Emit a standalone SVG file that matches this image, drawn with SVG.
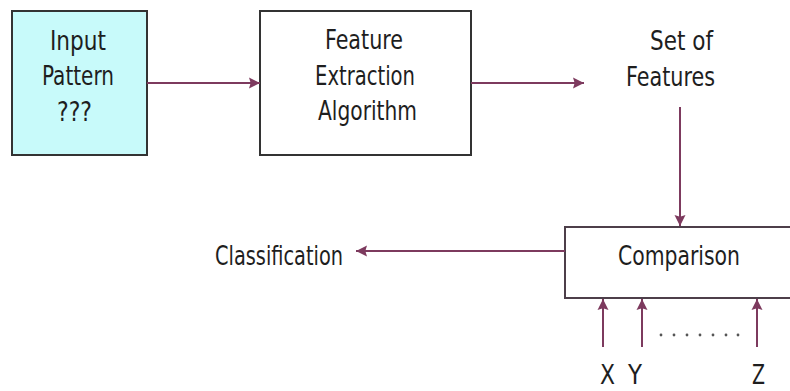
<svg xmlns="http://www.w3.org/2000/svg" width="790" height="391" viewBox="0 0 790 391">
  <defs>
    <marker id="arrow" viewBox="0 0 10 10" refX="10" refY="5" markerWidth="11" markerHeight="12" markerUnits="userSpaceOnUse" orient="auto">
      <path d="M0,0 L10,5 L0,10 L1.5,5 Z" fill="#7d3a5e"/>
    </marker>
  </defs>
  <style>
    .box { stroke: #333; stroke-width: 2; fill: #fff; }
    .input { fill: #c8fafa; }
    .cmp { stroke: #4d3f4a; }
    .wire { stroke: #7d3a5e; stroke-width: 2; fill: none; marker-end: url(#arrow); }
    text { font-family: "DejaVu Sans Condensed", "DejaVu Sans", sans-serif; font-size: 27px; fill: #1e1e1e; }
    .dots { fill: #555; }
  </style>
  <rect width="790" height="391" fill="#fff"/>

  <g id="input-pattern">
    <rect class="box input" x="12" y="11" width="135" height="144"/>
    <text x="50" y="50" textLength="56" lengthAdjust="spacingAndGlyphs">Input</text>
    <text x="42" y="85" textLength="72" lengthAdjust="spacingAndGlyphs">Pattern</text>
    <text x="57" y="121" textLength="35" lengthAdjust="spacingAndGlyphs">???</text>
  </g>

  <g id="feature-extraction">
    <rect class="box" x="260" y="11" width="211" height="144"/>
    <text x="325" y="49" textLength="78" lengthAdjust="spacingAndGlyphs">Feature</text>
    <text x="315" y="85" textLength="100" lengthAdjust="spacingAndGlyphs">Extraction</text>
    <text x="318" y="120" textLength="99" lengthAdjust="spacingAndGlyphs">Algorithm</text>
  </g>

  <g id="set-of-features">
    <text x="650" y="50" textLength="63" lengthAdjust="spacingAndGlyphs">Set of</text>
    <text x="626" y="86" textLength="89" lengthAdjust="spacingAndGlyphs">Features</text>
  </g>

  <g id="comparison">
    <rect class="box cmp" x="565" y="227" width="230" height="71"/>
    <text x="618" y="265" textLength="122" lengthAdjust="spacingAndGlyphs">Comparison</text>
  </g>

  <g id="classification">
    <text x="215" y="265" textLength="128" lengthAdjust="spacingAndGlyphs">Classification</text>
  </g>

  <g id="references">
    <text x="600" y="384" textLength="15" lengthAdjust="spacingAndGlyphs">X</text>
    <text x="628" y="384" textLength="14" lengthAdjust="spacingAndGlyphs">Y</text>
    <text x="752" y="384" textLength="13" lengthAdjust="spacingAndGlyphs">Z</text>
    <g class="dots">
      <circle cx="661" cy="335" r="1.4"/>
      <circle cx="674" cy="335" r="1.4"/>
      <circle cx="687" cy="335" r="1.4"/>
      <circle cx="700" cy="335" r="1.4"/>
      <circle cx="713" cy="335" r="1.4"/>
      <circle cx="726" cy="335" r="1.4"/>
      <circle cx="738" cy="335" r="1.4"/>
    </g>
  </g>

  <g id="connectors">
    <line class="wire" x1="147" y1="83" x2="260" y2="83"/>
    <line class="wire" x1="471" y1="83" x2="584" y2="83"/>
    <line class="wire" x1="680" y1="107" x2="680" y2="226"/>
    <line class="wire" x1="565" y1="251" x2="356" y2="251"/>
    <line class="wire" x1="603" y1="347" x2="603" y2="299"/>
    <line class="wire" x1="642" y1="347" x2="642" y2="299"/>
    <line class="wire" x1="757" y1="347" x2="757" y2="299"/>
  </g>
</svg>
